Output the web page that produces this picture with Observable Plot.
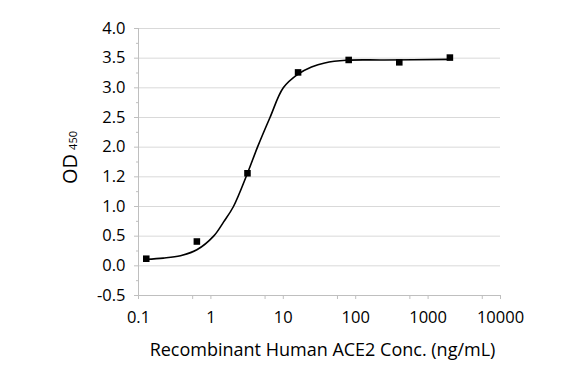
<!DOCTYPE html>
<html><head><meta charset="utf-8">
<script src="https://cdn.jsdelivr.net/npm/d3@7"></script>
<script src="https://cdn.jsdelivr.net/npm/@observablehq/plot@0.6"></script>
<style>body{margin:0;background:#fff} svg{display:block}</style>
</head><body><div id="chart"></div>
<script>
// Measured points
const concentrations = [0.128, 0.64, 3.2, 16, 80, 400, 2000];
const odValues = [0.12, 0.41, 1.56, 3.26, 3.47, 3.43, 3.51];
// Fitted curve
const fitConc = [0.128, 0.22, 0.38, 0.64, 1.09, 1.5, 2.05, 3.2, 4.4, 6.55, 10, 16, 24.5, 37.3, 74, 250, 2000];
const fitOD =   [0.11, 0.13, 0.17, 0.27, 0.50, 0.74, 1.0, 1.56, 2.0, 2.5, 3.0, 3.23, 3.35, 3.42, 3.465, 3.47, 3.48];
// Axes
const yTickValues = [-0.5, 0, 0.5, 1, 1.5, 2, 2.5, 3, 3.5, 4];
const yTickLabels = ["-0.5", "0.0", "0.5", "1.0", "1.2", "2.0", "2.5", "3.0", "3.5", "4.0"];
const yMinorTicks = [-0.25, 0.25, 0.75, 1.25, 1.75, 2.25, 2.75, 3.25, 3.75];
const xTickValues = [0.1, 1, 10, 100, 1000, 10000];
const xTickLabels = ["0.1", "1", "10", "100", "1000", "10000"];
const xMinorTicks = [0.56, 5.6, 56, 560, 5600];
const xTitle = "Recombinant Human ACE2 Conc. (ng/mL)";
const yTitleMain = "OD";
const yTitleSub = "450";

const points = concentrations.map((c, i) => ({c, od: odValues[i]}));
const fit = fitConc.map((c, i) => ({c, od: fitOD[i]}));

const axisColor = "#bfbfbf";
const gridColor = "#d9d9d9";

const svg = Plot.plot({
  width: 583,
  height: 383,
  marginLeft: 138,
  marginRight: 83,
  marginTop: 28,
  marginBottom: 88,
  style: {fontFamily: "'Open Sans', sans-serif", background: "#fff", color: "#000"},
  x: {type: "log", domain: [0.1, 10000], label: null},
  y: {domain: [-0.5, 4], label: null},
  marks: [
    Plot.gridY(yTickValues.filter(v => v > -0.5), {stroke: gridColor, strokeOpacity: 1}),
    Plot.ruleY([-0.5], {stroke: axisColor}),
    Plot.ruleX([0.1], {stroke: axisColor}),
    Plot.axisY(yTickValues, {tickSize: 4, tickPadding: 9, stroke: axisColor, fill: "#000", fontSize: 16.5,
      tickFormat: d => yTickLabels[yTickValues.indexOf(d)], label: null}),
    Plot.axisY(yMinorTicks, {tickSize: 2, stroke: axisColor, fill: "none", label: null}),
    Plot.axisX(xTickValues, {tickSize: 4, tickPadding: 12, stroke: axisColor, fill: "#000", fontSize: 16.5,
      tickFormat: d => xTickLabels[xTickValues.indexOf(d)], label: null}),
    Plot.axisX(xMinorTicks, {tickSize: 4, stroke: axisColor, fill: "none", label: null}),
    Plot.line(fit, {x: "c", y: "od", stroke: "#000", strokeWidth: 1.6, curve: "catmull-rom"}),
    Plot.dot(points, {x: "c", y: "od", symbol: "square", r: 3.7, fill: "#000", stroke: "none"}),
    Plot.text([xTitle], {text: d => d, frameAnchor: "bottom", dy: 60, dx: 3, fontSize: 18, fill: "#000"})
  ]
});

const t = d3.select(svg).append("text")
  .attr("transform", "translate(77,157.5) rotate(-90)")
  .attr("text-anchor", "middle")
  .attr("font-family", "'Open Sans', sans-serif")
  .attr("fill", "#000");
t.append("tspan").attr("font-size", 20).text(yTitleMain);
t.append("tspan").attr("font-size", 11).attr("dx", 4).text(yTitleSub);

document.getElementById("chart").appendChild(svg);
</script>
</body></html>
